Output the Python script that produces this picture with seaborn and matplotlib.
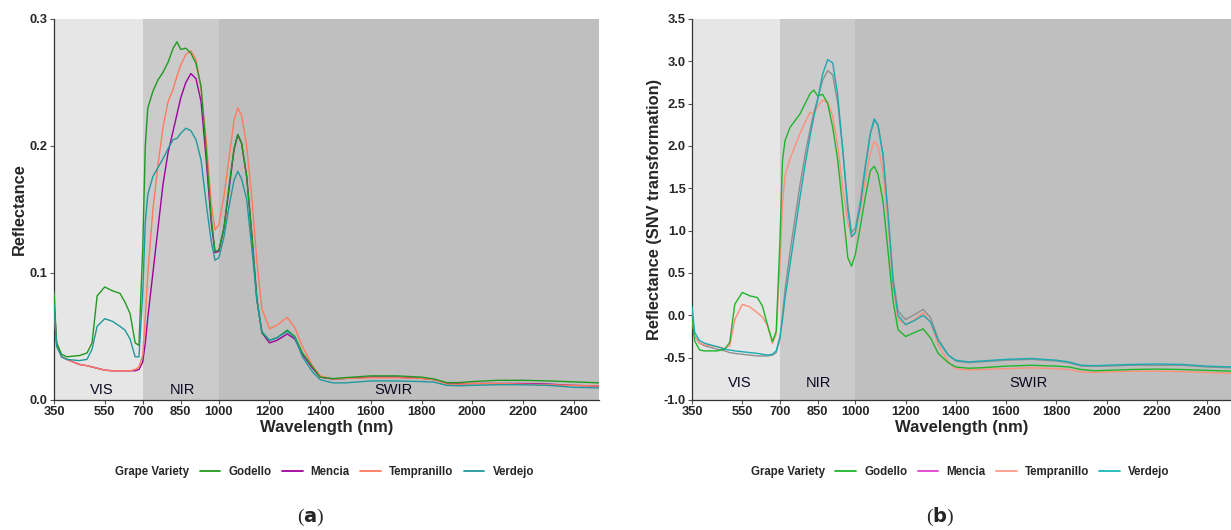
import matplotlib
matplotlib.use("Agg")
import matplotlib.pyplot as plt
import seaborn as sns
import pandas as pd
from matplotlib.lines import Line2D

# wavelength grid (nm) shared by all curves
wavelength = [350, 360, 380, 400, 450, 480, 500, 520, 550, 580, 610, 630, 650, 670, 685,
              700, 710, 720, 740, 760, 780, 800, 820, 835, 850, 870, 890, 910, 930, 950,
              970, 985, 1000, 1020, 1040, 1060, 1075, 1090, 1110, 1130, 1150, 1170, 1200,
              1230, 1270, 1300, 1330, 1370, 1400, 1450, 1500, 1600, 1700, 1800, 1850, 1900,
              1950, 2000, 2100, 2200, 2300, 2400, 2500]

varieties = ["Godello", "Mencia", "Tempranillo", "Verdejo"]

# (a) raw reflectance
godello_a = [.085, .045, .036, .034, .035, .037, .045, .082, .089, .086, .084, .077, .068, .045, .043,
             .120, .200, .230, .243, .252, .258, .266, .277, .282, .276, .277, .273, .265, .247, .197,
             .144, .117, .118, .135, .168, .198, .209, .202, .176, .131, .079, .053, .047,
             .049, .055, .050, .037, .026, .018, .0168, .0176, .019, .019, .018, .0165, .0137,
             .0137, .0145, .0155, .0155, .015, .0143, .0135]
mencia_a = [.075, .045, .034, .032, .028, .027, .026, .025, .0235, .023, .023, .023, .023, .023, .024,
            .030, .045, .065, .100, .135, .170, .195, .212, .225, .238, .250, .257, .253, .235, .190,
            .140, .116, .117, .135, .165, .197, .209, .202, .176, .131, .080, .053, .045,
            .047, .052, .048, .036, .025, .018, .0165, .017, .018, .018, .017, .016, .013,
            .0128, .013, .013, .013, .0125, .0115, .011]
tempranillo_a = [.070, .045, .034, .032, .028, .027, .026, .025, .0235, .023, .023, .023, .023, .024, .026,
                 .035, .065, .100, .150, .185, .215, .235, .245, .255, .264, .272, .275, .268, .245, .205,
                 .155, .134, .138, .160, .190, .220, .230, .224, .200, .160, .110, .072, .056,
                 .059, .065, .057, .042, .027, .019, .0165, .017, .0175, .0175, .017, .016, .0125,
                 .0125, .013, .013, .0125, .012, .0115, .011]
verdejo_a = [.075, .042, .034, .032, .031, .032, .040, .058, .064, .062, .058, .055, .048, .034, .034,
             .085, .140, .162, .176, .183, .190, .198, .205, .206, .210, .214, .212, .205, .189, .155,
             .125, .110, .112, .128, .152, .173, .180, .174, .158, .120, .079, .054, .047,
             .049, .054, .049, .034, .022, .016, .0135, .0135, .015, .015, .0145, .014, .0115,
             .0112, .0115, .012, .012, .0115, .010, .0095]

# (b) SNV transformed reflectance
godello_b = [0.0, -0.30, -0.41, -0.42, -0.42, -0.40, -0.32, 0.13, 0.27, 0.23, 0.21, 0.11, -0.11, -0.31, -0.19,
             0.90, 1.83, 2.06, 2.22, 2.30, 2.38, 2.50, 2.62, 2.66, 2.59, 2.61, 2.50, 2.22, 1.83, 1.27,
             0.68, 0.58, 0.72, 1.05, 1.40, 1.71, 1.76, 1.67, 1.35, 0.76, 0.17, -0.17, -0.25,
             -0.21, -0.16, -0.27, -0.45, -0.56, -0.61, -0.625, -0.62, -0.60, -0.59, -0.60, -0.61, -0.64,
             -0.655, -0.65, -0.64, -0.635, -0.64, -0.65, -0.66]
mencia_b = [0.05, -0.25, -0.33, -0.36, -0.40, -0.42, -0.44, -0.45, -0.46, -0.47, -0.48, -0.48, -0.48, -0.47, -0.44,
            -0.28, 0.00, 0.30, 0.75, 1.15, 1.55, 1.90, 2.20, 2.40, 2.55, 2.78, 2.89, 2.84, 2.50, 1.95,
            1.30, 0.98, 1.03, 1.35, 1.78, 2.15, 2.30, 2.25, 1.90, 1.20, 0.45, 0.05, -0.05,
            0.00, 0.07, -0.03, -0.28, -0.47, -0.54, -0.56, -0.55, -0.53, -0.52, -0.54, -0.56, -0.60,
            -0.60, -0.60, -0.59, -0.59, -0.59, -0.61, -0.62]
tempranillo_b = [-0.05, -0.25, -0.33, -0.35, -0.37, -0.39, -0.36, -0.05, 0.13, 0.10, 0.03, -0.02, -0.12, -0.33, -0.22,
                 0.60, 1.30, 1.65, 1.85, 2.00, 2.15, 2.28, 2.40, 2.38, 2.47, 2.54, 2.52, 2.35, 2.00, 1.50,
                 1.10, 0.92, 0.97, 1.25, 1.60, 1.92, 2.05, 2.00, 1.70, 1.10, 0.35, -0.05, -0.11,
                 -0.06, 0.03, -0.08, -0.35, -0.55, -0.63, -0.645, -0.64, -0.63, -0.62, -0.63, -0.64, -0.67,
                 -0.675, -0.67, -0.66, -0.66, -0.665, -0.675, -0.685]
verdejo_b = [0.10, -0.20, -0.30, -0.33, -0.37, -0.40, -0.41, -0.42, -0.43, -0.44, -0.45, -0.46, -0.47, -0.46, -0.42,
             -0.25, -0.05, 0.20, 0.60, 1.00, 1.40, 1.78, 2.12, 2.35, 2.55, 2.85, 3.02, 2.98, 2.60, 1.95,
             1.25, 0.93, 0.98, 1.30, 1.75, 2.15, 2.32, 2.25, 1.90, 1.20, 0.40, 0.00, -0.11,
             -0.07, 0.00, -0.08, -0.30, -0.47, -0.53, -0.55, -0.54, -0.52, -0.51, -0.53, -0.55, -0.59,
             -0.595, -0.59, -0.58, -0.575, -0.58, -0.60, -0.61]

x_ticks = [350, 550, 700, 850, 1000, 1200, 1400, 1600, 1800, 2000, 2200, 2400]
regions = [("VIS", 350, 700, "#e6e6e6"), ("NIR", 700, 1000, "#cbcbcb"), ("SWIR", 1000, 2500, "#bfbfbf")]

colors_a = {"Godello": "#1f9a1f", "Mencia": "#a000a0", "Tempranillo": "#ff7b5c", "Verdejo": "#20999c"}
# in (b) the Mencia curve shows up grey under Verdejo, legend keeps the pink key
colors_b = {"Godello": "#1fb52a", "Mencia": "#8f8f8f", "Tempranillo": "#ff8f7a", "Verdejo": "#1aaab2"}
legend_b = {"Godello": "#1fb52a", "Mencia": "#e040d0", "Tempranillo": "#ff9a88", "Verdejo": "#1ab8b8"}


def long_df(series):
    rows = []
    for name, vals in zip(varieties, series):
        for w, v in zip(wavelength, vals):
            rows.append({"Wavelength": w, "Reflectance": v, "Variety": name})
    return pd.DataFrame(rows)


df_a = long_df([godello_a, mencia_a, tempranillo_a, verdejo_a])
df_b = long_df([godello_b, mencia_b, tempranillo_b, verdejo_b])

sns.set_style("ticks")
plt.rcParams["font.family"] = ["Liberation Sans", "DejaVu Sans"]

fig = plt.figure(figsize=(12.31, 5.30), dpi=100)
ax_a = fig.add_axes([0.0439, 0.2453, 0.4427, 0.7189])
ax_b = fig.add_axes([0.5622, 0.2453, 0.4387, 0.7189])


def style_panel(ax, df, palette, ylim, yticks, ylabel, label_y, ylabel_x, legend_colors):
    for name, x0, x1, c in regions:
        ax.axvspan(x0, x1, color=c, lw=0, zorder=0)
    sns.lineplot(data=df, x="Wavelength", y="Reflectance", hue="Variety",
                 palette=palette, hue_order=["Mencia", "Tempranillo", "Godello", "Verdejo"],
                 linewidth=1.0, legend=False, ax=ax, zorder=3)
    ax.set_xlim(350, 2500)
    ax.set_ylim(*ylim)
    ax.set_xticks(x_ticks)
    ax.set_yticks(yticks)
    ax.set_yticklabels([f"{t:.1f}" for t in yticks])
    for lab in ax.get_xticklabels() + ax.get_yticklabels():
        lab.set_fontweight("bold")
        lab.set_fontsize(9.3)
    ax.tick_params(length=3, width=0.8, color="#555555", pad=1.5)
    for s in ["top", "right"]:
        ax.spines[s].set_visible(False)
    for s in ["left", "bottom"]:
        ax.spines[s].set_color("#333333")
        ax.spines[s].set_linewidth(0.9)
    ax.set_xlabel("Wavelength (nm)", fontsize=12, fontweight="bold", labelpad=1)
    ax.set_ylabel(ylabel, fontsize=11.8, fontweight="bold")
    ax.yaxis.set_label_coords(ylabel_x, 0.5)
    for name, xpos in [("VIS", 540), ("NIR", 855), ("SWIR", 1690)]:
        ax.text(xpos, label_y, name, fontsize=10.5, ha="center", va="center",
                color="#0a0a22", zorder=4)

    handles = [Line2D([], [], ls="none")]
    handles += [Line2D([], [], color=legend_colors[v], lw=1.3) for v in varieties]
    leg = ax.legend(handles, ["Grape Variety"] + varieties, loc="center",
                    bbox_to_anchor=(0.47, -0.189), ncol=5, frameon=False,
                    fontsize=8.3, handlelength=1.8, handletextpad=0.7, columnspacing=0.9)
    for t in leg.get_texts():
        t.set_fontweight("bold")


style_panel(ax_a, df_a, colors_a, (0, 0.3), [0.0, 0.1, 0.2, 0.3], "Reflectance",
            0.0075, -0.05, colors_a)
style_panel(ax_b, df_b, colors_b, (-1.0, 3.5), [-1.0 + 0.5 * i for i in range(10)],
            "Reflectance (SNV transformation)", -0.8, -0.056, legend_b)

fig.text(0.252, 0.024, r"($\mathbf{a}$)", fontsize=14, ha="center", va="center",
         family=["Liberation Serif", "DejaVu Serif"])
fig.text(0.764, 0.024, r"($\mathbf{b}$)", fontsize=14, ha="center", va="center",
         family=["Liberation Serif", "DejaVu Serif"])

fig.savefig("out.png", dpi=100)
